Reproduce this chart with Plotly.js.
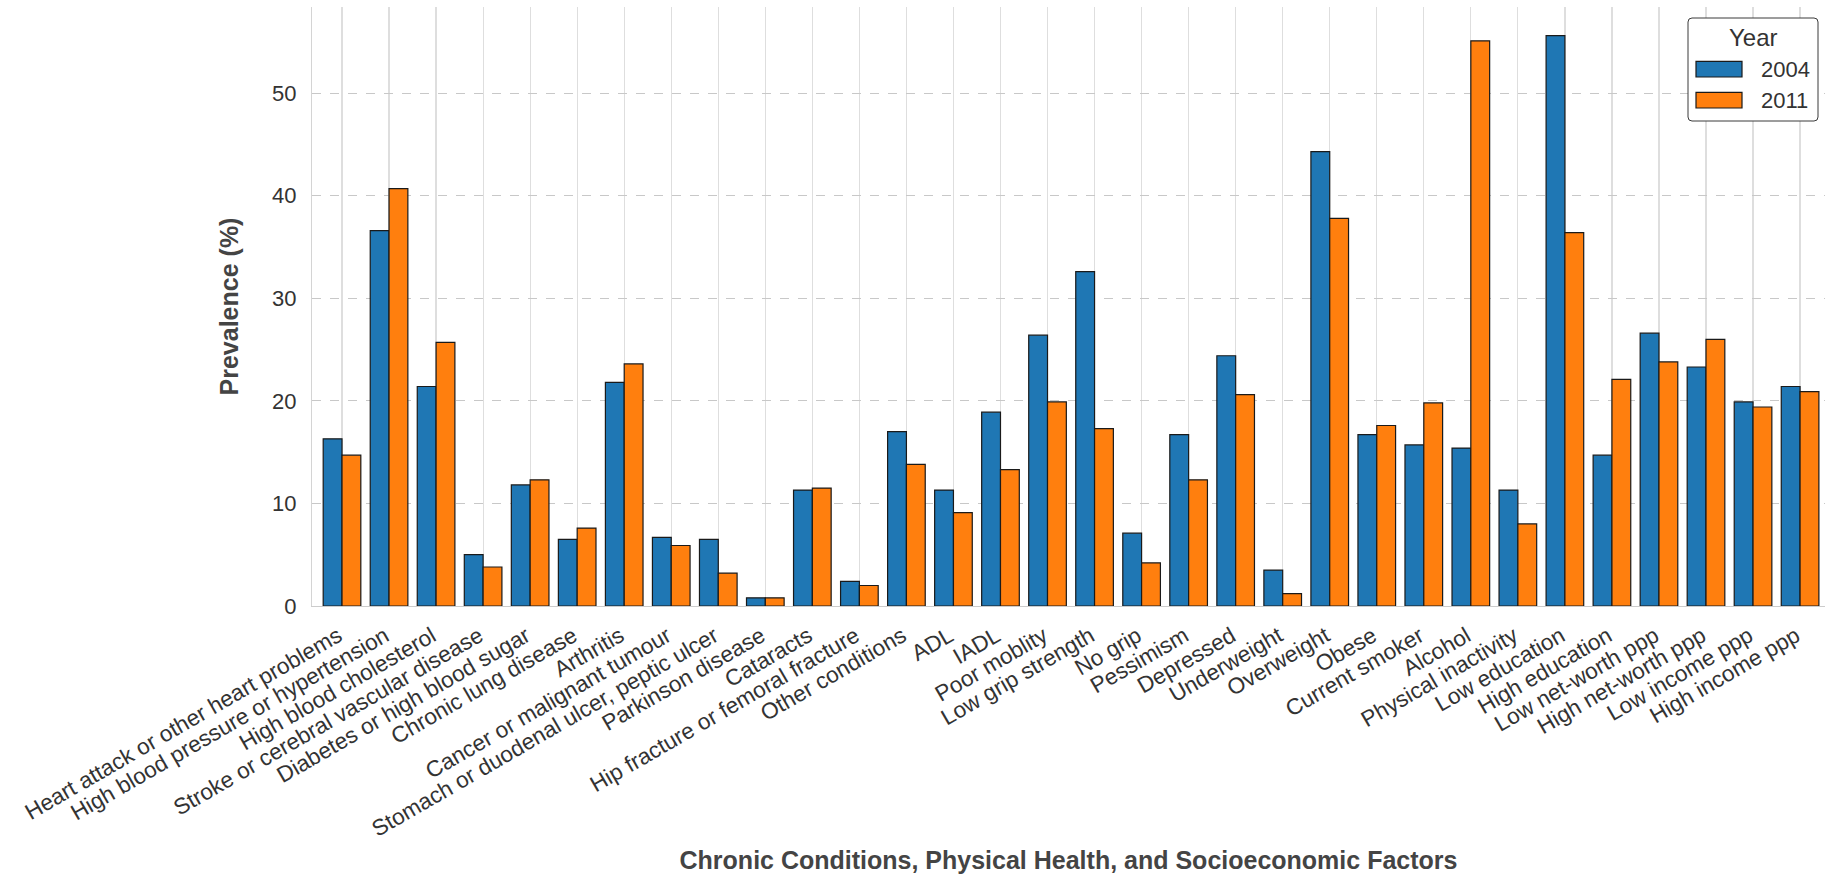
<!DOCTYPE html>
<html>
<head>
<meta charset="utf-8">
<script src="https://cdn.plot.ly/plotly-3.0.1.min.js"></script>
<style>
  html, body { margin: 0; padding: 0; background: #ffffff; }
  #chart { width: 1825px; height: 874px; }
</style>
</head>
<body>
<div id="chart"></div>
<script>
// Prevalence (%) of chronic conditions, physical health and socioeconomic factors
const categories = [
  "Heart attack or other heart problems",
  "High blood pressure or hypertension",
  "High blood cholesterol",
  "Stroke or cerebral vascular disease",
  "Diabetes or high blood sugar",
  "Chronic lung disease",
  "Arthritis",
  "Cancer or malignant tumour",
  "Stomach or duodenal ulcer, peptic ulcer",
  "Parkinson disease",
  "Cataracts",
  "Hip fracture or femoral fracture",
  "Other conditions",
  "ADL",
  "IADL",
  "Poor moblity",
  "Low grip strength",
  "No grip",
  "Pessimism",
  "Depressed",
  "Underweight",
  "Overweight",
  "Obese",
  "Current smoker",
  "Alcohol",
  "Physical inactivity",
  "Low education",
  "High education",
  "Low net-worth ppp",
  "High net-worth ppp",
  "Low income ppp",
  "High income ppp"
];

const years = ["2004", "2011"];

const prevalence2004 = [
  16.3, 36.6, 21.4, 5.0, 11.8, 6.5, 21.8, 6.7, 6.5, 0.8, 11.3, 2.4,
  17.0, 11.3, 18.9, 26.4, 32.6, 7.1, 16.7, 24.4, 3.5, 44.3, 16.7, 15.7,
  15.4, 11.3, 55.6, 14.7, 26.6, 23.3, 19.9, 21.4
];

const prevalence2011 = [
  14.7, 40.7, 25.7, 3.8, 12.3, 7.6, 23.6, 5.9, 3.2, 0.8, 11.5, 2.0,
  13.8, 9.1, 13.3, 19.9, 17.3, 4.2, 12.3, 20.6, 1.2, 37.8, 17.6, 19.8,
  55.1, 8.0, 36.4, 22.1, 23.8, 26.0, 19.4, 20.9
];

const seriesColors = ["#1f77b4", "#ff7f0e"];

// Figure geometry (pixels)
const W = 1825, H = 874;
const M = { l: 312, r: 0, t: 7, b: 268 };
const plotW = W - M.l - M.r;
const plotH = H - M.t - M.b;
const px2x = px => (px - M.l) / plotW;
const px2y = py => (H - M.b - py) / plotH;

const FONT = "'Liberation Sans', Arial, Helvetica, sans-serif";

const traces = [prevalence2004, prevalence2011].map((vals, i) => ({
  type: "bar",
  name: years[i],
  x: categories,
  y: vals,
  marker: {
    color: seriesColors[i],
    line: { color: "#1a1a1a", width: 1.2 }
  },
  showlegend: false,
  hoverinfo: "x+y+name"
}));

// Legend box drawn as a rounded frame with coloured swatches
function roundRectPath(x0, y0, x1, y1, r) {
  const X = px2x, Y = px2y;
  return [
    `M${X(x0 + r)},${Y(y0)}`,
    `L${X(x1 - r)},${Y(y0)}`,
    `Q${X(x1)},${Y(y0)} ${X(x1)},${Y(y0 + r)}`,
    `L${X(x1)},${Y(y1 - r)}`,
    `Q${X(x1)},${Y(y1)} ${X(x1 - r)},${Y(y1)}`,
    `L${X(x0 + r)},${Y(y1)}`,
    `Q${X(x0)},${Y(y1)} ${X(x0)},${Y(y1 - r)}`,
    `L${X(x0)},${Y(y0 + r)}`,
    `Q${X(x0)},${Y(y0)} ${X(x0 + r)},${Y(y0)}`,
    "Z"
  ].join(" ");
}

const legendBox = { x0: 1688, y0: 18, x1: 1818, y1: 121 };
const swatchRows = [69.2, 100.2];

const shapes = [{
  type: "path",
  xref: "paper", yref: "paper",
  path: roundRectPath(legendBox.x0, legendBox.y0, legendBox.x1, legendBox.y1, 4),
  fillcolor: "#ffffff",
  line: { color: "#3a3a3a", width: 1 },
  layer: "above"
}];

const annotations = [{
  xref: "paper", yref: "paper",
  x: px2x((legendBox.x0 + legendBox.x1) / 2), y: px2y(37),
  xanchor: "center", yanchor: "middle",
  text: "Year", showarrow: false,
  font: { family: FONT, size: 24, color: "#333333" }
}];

years.forEach((yr, i) => {
  const cy = swatchRows[i];
  shapes.push({
    type: "rect",
    xref: "paper", yref: "paper",
    x0: px2x(1696), x1: px2x(1742),
    y0: px2y(cy - 7.8), y1: px2y(cy + 7.8),
    fillcolor: seriesColors[i],
    line: { color: "#1a1a1a", width: 1.2 },
    layer: "above"
  });
  annotations.push({
    xref: "paper", yref: "paper",
    x: px2x(1759), y: px2y(cy),
    xanchor: "left", yanchor: "middle",
    text: yr, showarrow: false,
    font: { family: FONT, size: 22, color: "#333333" }
  });
});

const layout = {
  width: W,
  height: H,
  margin: M,
  paper_bgcolor: "#ffffff",
  plot_bgcolor: "#ffffff",
  font: { family: FONT, size: 22, color: "#333333" },
  barmode: "group",
  bargap: 0.2,
  bargroupgap: 0,
  showlegend: false,
  xaxis: {
    type: "category",
    range: [-0.638, 31.53],
    tickangle: -30,
    tickfont: { family: FONT, size: 22.5, color: "#333333" },
    ticks: "",
    ticklabelshift: -4,
    ticklabelstandoff: 7,
    showgrid: true,
    gridcolor: "#dedede",
    gridwidth: 1.2,
    showline: true,
    linecolor: "#cccccc",
    linewidth: 1.2,
    zeroline: false,
    automargin: false,
    title: {
      text: "Chronic Conditions, Physical Health, and Socioeconomic Factors",
      font: { family: FONT, size: 25, color: "#444444", weight: "bold" },
      standoff: 30
    }
  },
  yaxis: {
    range: [0, 58.4],
    tickvals: [0, 10, 20, 30, 40, 50],
    tickfont: { family: FONT, size: 22, color: "#333333" },
    ticks: "",
    ticklabelstandoff: 10,
    showgrid: true,
    gridcolor: "#c8c8c8",
    griddash: "dash",
    gridwidth: 1,
    showline: true,
    linecolor: "#d4d4d4",
    linewidth: 1.2,
    zeroline: false,
    automargin: false,
    title: {
      text: "Prevalence (%)",
      font: { family: FONT, size: 25, color: "#444444", weight: "bold" },
      standoff: 26
    }
  },
  shapes: shapes,
  annotations: annotations
};

Plotly.newPlot("chart", traces, layout, { staticPlot: true, displayModeBar: false });
</script>
</body>
</html>
